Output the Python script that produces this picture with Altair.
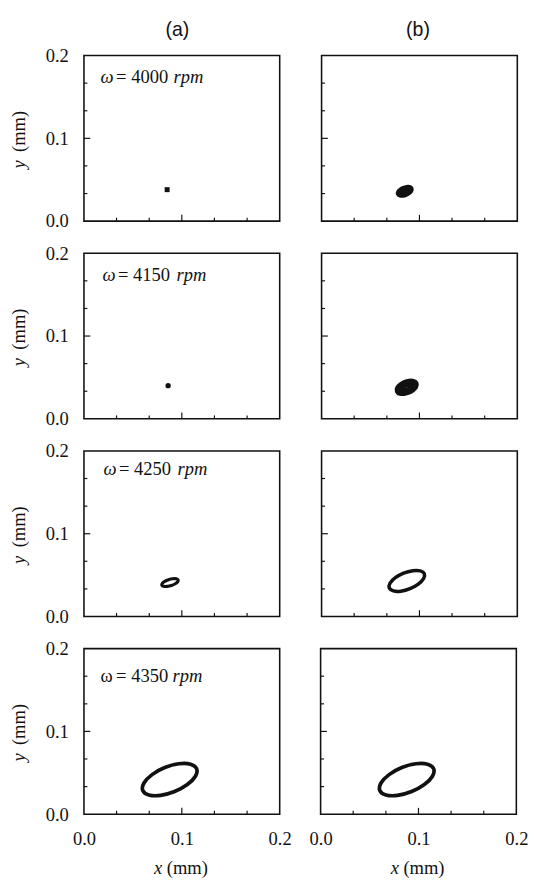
import altair as alt
import pandas as pd

SERIF = "Liberation Serif"
SANS = "Liberation Sans"
W, H = 201, 170
INK = "#111111"
FS = 19
FS_ANN = 19

column_titles = ["(a)", "(b)"]
speeds = ["4000", "4150", "4250", "4350"]
omega_italic = [True, True, True, False]
axis_values = [0.0, 0.1, 0.2]
minor_ticks = [0.0333, 0.0667, 0.1333, 0.1667]
major_ticks = [0.1]

# orbit data (x, y in mm)
r1a_x = [0.085]
r1a_y = [0.038]
r1b_x = [0.0911, 0.0897, 0.0871, 0.0839, 0.0810, 0.0792, 0.0789, 0.0803, 0.0829, 0.0861, 0.0890, 0.0908]
r1b_y = [0.0389, 0.0401, 0.0402, 0.0392, 0.0373, 0.0351, 0.0331, 0.0319, 0.0318, 0.0328, 0.0347, 0.0369]
r2a_x = [0.086]
r2a_y = [0.040]
r2b_x = [0.0953, 0.0934, 0.0898, 0.0855, 0.0816, 0.0791, 0.0787, 0.0806, 0.0842, 0.0885, 0.0924, 0.0949]
r2b_y = [0.0420, 0.0436, 0.0437, 0.0424, 0.0398, 0.0368, 0.0340, 0.0324, 0.0323, 0.0336, 0.0362, 0.0392]
r3a_x = [0.0962, 0.0943, 0.0907, 0.0864, 0.0825, 0.0800, 0.0796, 0.0815, 0.0851, 0.0894, 0.0933, 0.0958]
r3a_y = [0.0442, 0.0455, 0.0456, 0.0445, 0.0424, 0.0400, 0.0378, 0.0365, 0.0364, 0.0375, 0.0396, 0.0420]
r3b_x = [0.1050, 0.1009, 0.0932, 0.0838, 0.0754, 0.0700, 0.0692, 0.0733, 0.0810, 0.0904, 0.0988, 0.1042]
r3b_y = [0.0516, 0.0551, 0.0554, 0.0524, 0.0469, 0.0403, 0.0344, 0.0309, 0.0306, 0.0336, 0.0391, 0.0457]
r4a_x = [0.1151, 0.1089, 0.0970, 0.0826, 0.0696, 0.0613, 0.0601, 0.0663, 0.0782, 0.0926, 0.1056, 0.1139]
r4a_y = [0.0550, 0.0604, 0.0609, 0.0563, 0.0478, 0.0377, 0.0286, 0.0232, 0.0227, 0.0273, 0.0358, 0.0459]
r4b_x = [0.1155, 0.1093, 0.0974, 0.0830, 0.0700, 0.0617, 0.0605, 0.0667, 0.0786, 0.0930, 0.1060, 0.1143]
r4b_y = [0.0550, 0.0604, 0.0609, 0.0563, 0.0478, 0.0377, 0.0286, 0.0232, 0.0227, 0.0273, 0.0358, 0.0459]

orbits = [
    [("square", r1a_x, r1a_y, 0), ("line", r1b_x, r1b_y, 6)],
    [("circle", r2a_x, r2a_y, 0), ("line", r2b_x, r2b_y, 8)],
    [("line", r3a_x, r3a_y, 3.2), ("line", r3b_x, r3b_y, 3.6)],
    [("line", r4a_x, r4a_y, 3.8), ("line", r4b_x, r4b_y, 3.8)],
]

# annotation layout per row: (omega x, "=" x, "rpm" x, baseline y)
ann_pos = [(17, 33, 92, 28), (19, 35, 95, 28), (20, 36, 96, 25), (17, 33, 91, 34)]

scale = alt.Scale(domain=[0, 0.2], nice=False, zero=False)


def make_axis(pad):
    return alt.Axis(values=axis_values, format=".1f", labelFont=SERIF, labelFontSize=FS,
                    labelColor=INK, ticks=False, domain=False, grid=False, labelPadding=pad,
                    labelFlush=False, labelOverlap=False, title=None)


def text_layer(txt, x, y, italic=False, font=SERIF, size=FS, align="left", angle=0):
    return alt.Chart(pd.DataFrame({"t": [txt]})).mark_text(
        font=font, fontSize=size, fontStyle="italic" if italic else "normal",
        align=align, baseline="alphabetic", angle=angle, color=INK
    ).encode(x=alt.value(x), y=alt.value(y), text="t:N")


def panel(r, c):
    xaxis = make_axis(16) if r == 3 else None
    yaxis = make_axis(16) if c == 0 else None
    layers = []
    kind, xs, ys, sw = orbits[r][c]
    df = pd.DataFrame({"x": xs, "y": ys, "i": list(range(len(xs)))})
    enc = dict(x=alt.X("x:Q", scale=scale, axis=xaxis), y=alt.Y("y:Q", scale=scale, axis=yaxis))
    if kind == "square":
        layers.append(alt.Chart(df).mark_square(size=26, color=INK, opacity=1).encode(**enc))
    elif kind == "circle":
        layers.append(alt.Chart(df).mark_circle(size=30, color=INK, opacity=1).encode(**enc))
    else:
        layers.append(alt.Chart(df).mark_line(interpolate="cardinal-closed", strokeWidth=sw,
                                              color=INK).encode(order="i:Q", **enc))
    # inward ticks
    for vals, L in ((minor_ticks, 3.5), (major_ticks, 6.5)):
        tdf = pd.DataFrame({"v": vals})
        layers.append(alt.Chart(tdf).mark_rule(color=INK, strokeWidth=1.2).encode(
            x=alt.X("v:Q", scale=scale, axis=xaxis), y=alt.value(H), y2=alt.value(H - L)))
        layers.append(alt.Chart(tdf).mark_rule(color=INK, strokeWidth=1.2).encode(
            y=alt.Y("v:Q", scale=scale, axis=yaxis), x=alt.value(0), x2=alt.value(L)))
    if r == 0:
        layers.append(text_layer(column_titles[c], 96 if c == 0 else 99, -20, font=SANS,
                                 size=20, align="center"))
    if c == 0:
        ox, ex, rx, by = ann_pos[r]
        layers.append(text_layer("ω", ox, by, italic=omega_italic[r], size=FS_ANN))
        layers.append(text_layer("= " + speeds[r], ex, by, size=FS_ANN))
        layers.append(text_layer("rpm", rx, by, italic=True, size=FS_ANN))
        layers.append(text_layer("y", -61, 116, italic=True, angle=270))
        layers.append(text_layer("(mm)", -61, 99, angle=270))
    if r == 3:
        layers.append(text_layer("x", 72, H + 61, italic=True))
        layers.append(text_layer("(mm)", 85, H + 61))
    return alt.layer(*layers).properties(width=W, height=H)


rows = [alt.hconcat(panel(r, 0), panel(r, 1), spacing=(40 if r < 3 else 16)) for r in range(4)]
chart = alt.vconcat(*rows, spacing=12).configure_view(
    stroke=INK, strokeWidth=1.6
).properties(padding={"left": 1, "top": 0, "right": 0, "bottom": 0})

chart.save("out.html", embed_options={"renderer": "svg", "actions": False})
